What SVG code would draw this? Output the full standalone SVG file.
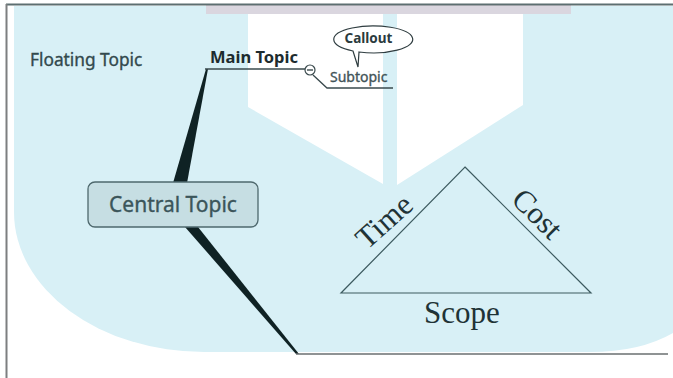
<svg xmlns="http://www.w3.org/2000/svg" width="673" height="378" viewBox="0 0 673 378">
<style>
.sans{font-family:"Noto Sans","DejaVu Sans",sans-serif;stroke-width:0.35}
.serif{font-family:"Liberation Serif","DejaVu Serif",serif;fill:#1f3336}
.edge{stroke:#3a4a4d;fill:none;stroke-width:1.3}
.taper{fill:#0f2224}
</style>
<rect x="0" y="0" width="673" height="378" fill="#ffffff"/>
<g id="background">
<path d="M14,6 H673 V333 Q640,352 590,352 H204 A190,140 0 0 1 14,212 Z" fill="#d8f0f6"/>
<rect x="206" y="5" width="365" height="9" fill="#dccbd6" opacity="0.7"/>
<polygon points="248,14 383,14 383,184 248,107" fill="#ffffff"/>
<polygon points="397,14 523,14 523,105 397,185" fill="#ffffff"/>
<line x1="6" y1="4.5" x2="673" y2="4.5" stroke="#5d6f71" stroke-width="2"/>
<line x1="6.5" y1="4" x2="6.5" y2="378" stroke="#7d7f80" stroke-width="2"/>
</g>
<g id="connectors">
<polygon class="taper" points="173,183 187,183 208,69 206,69"/>
<polygon class="taper" points="185,227 198,227 299,354 296,354"/>
<line x1="296" y1="354" x2="668" y2="354" stroke="#6a6f70" stroke-width="1.5"/>
<line class="edge" x1="205" y1="69" x2="305" y2="69"/>
<path class="edge" d="M313,75 L327,88 H393"/>
</g>
<g id="floating-topic">
<text class="sans" x="30" y="66" font-size="17.3" fill="#32494d" stroke="#32494d">Floating Topic</text>
</g>
<g id="main-topic">
<text class="sans" x="210" y="63" font-size="16.5" font-weight="bold" fill="#1d2b2e">Main Topic</text>
<circle cx="310" cy="70" r="5" fill="#ffffff" stroke="#3a4a4d" stroke-width="1.2"/>
<line x1="307" y1="70" x2="313" y2="70" stroke="#3a4a4d" stroke-width="1.4"/>
</g>
<g id="subtopic">
<text class="sans" x="330" y="82" font-size="14" fill="#425458" stroke="#425458">Subtopic</text>
</g>
<g id="callout">
<path d="M353,51 A39.5,13.5 0 1 1 359,52 L358,67 Z" fill="#ffffff" stroke="#2f3d40" stroke-width="1.2"/>
<text class="sans" x="368.5" y="43" font-size="13.5" font-weight="bold" fill="#2b3b3e" text-anchor="middle">Callout</text>
</g>
<g id="central-topic">
<rect x="88" y="182" width="170" height="45" rx="7" fill="#c6dee3" stroke="#4e686d" stroke-width="1.3"/>
<text class="sans" x="173" y="212" font-size="21" fill="#3b555a" stroke="#3b555a" text-anchor="middle">Central Topic</text>
</g>
<g id="triangle">
<polygon points="465,167 591,293 341,293" fill="none" stroke="#3c5a5f" stroke-width="1.2"/>
<text class="serif" font-size="31" text-anchor="middle" transform="translate(391,229) rotate(-42)">Time</text>
<text class="serif" font-size="31" text-anchor="middle" transform="translate(530,221) rotate(45)">Cost</text>
<text class="serif" font-size="31" text-anchor="middle" x="462" y="323">Scope</text>
</g>
</svg>
